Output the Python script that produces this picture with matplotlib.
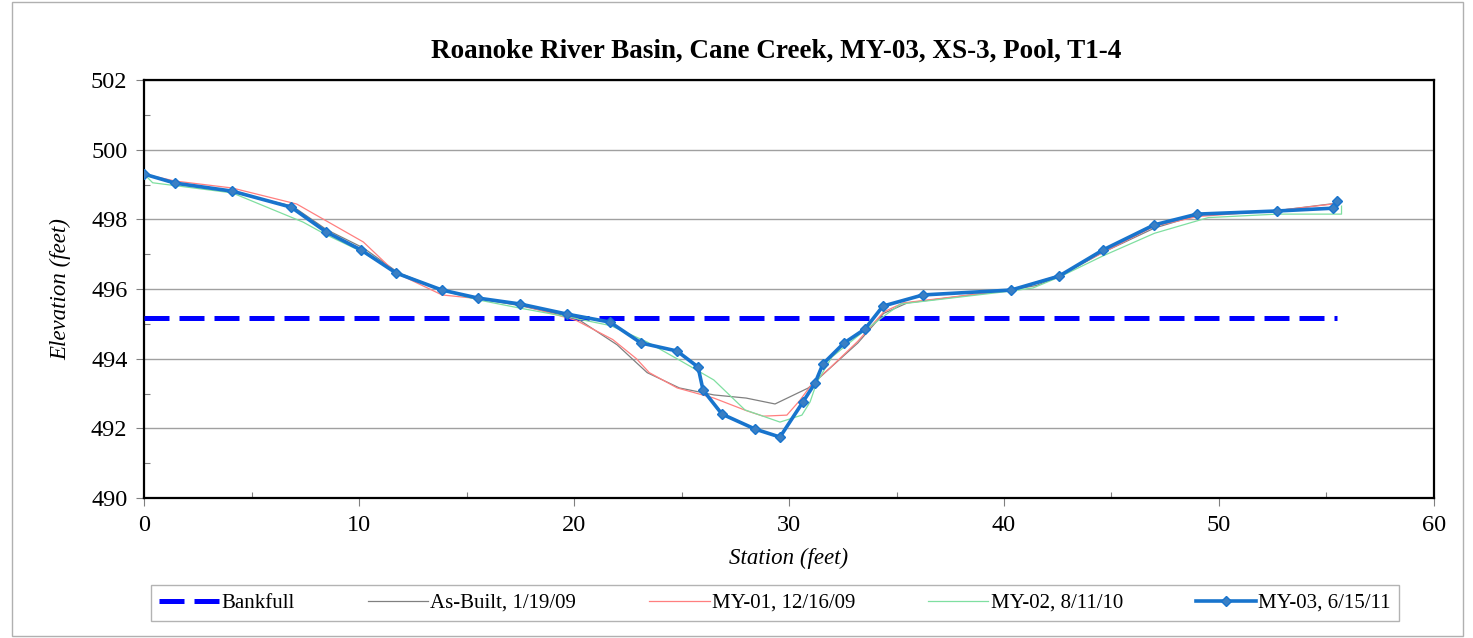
import matplotlib
matplotlib.use("Agg")
import matplotlib.pyplot as plt
from matplotlib.patches import Rectangle
from matplotlib.ticker import MultipleLocator

# Cross-section survey data: station (ft) vs elevation (ft)
bankfull_station = [0.0, 55.5]
bankfull_elev = [495.17, 495.17]

asbuilt_station = [0.0, 1.44, 4.10, 6.9, 8.5, 10.2, 11.8, 13.9, 15.6, 17.5, 19.7, 20.1,
                   22.0, 23.4, 24.9, 26.5, 28.0, 29.35, 30.9, 31.8, 33.2, 34.4, 35.5,
                   40.3, 41.5, 42.6, 44.6, 47.0, 49.0, 52.7, 55.3]
asbuilt_elev = [499.30, 499.02, 498.78, 498.38, 497.70, 497.18, 496.48, 495.95, 495.72,
                495.52, 495.22, 495.17, 494.40, 493.60, 493.16, 492.96, 492.87, 492.70,
                493.16, 493.67, 494.45, 495.30, 495.60, 495.97, 496.10, 496.37, 497.05,
                497.75, 498.12, 498.25, 498.45]

my01_station = [0.0, 1.44, 4.10, 7.1, 10.2, 11.72, 13.86, 15.6, 17.5, 20.1, 21.8, 22.9,
                23.5, 24.8, 26.5, 28.05, 28.8, 29.9, 30.5, 31.1, 31.9, 33.2, 34.4, 35.3,
                40.3, 42.6, 44.6, 47.0, 49.0, 52.7, 55.3]
my01_elev = [499.30, 499.10, 498.90, 498.44, 497.35, 496.46, 495.83, 495.72, 495.55,
             495.10, 494.55, 494.00, 493.60, 493.16, 492.87, 492.50, 492.35, 492.38,
             492.80, 493.30, 493.73, 494.50, 495.34, 495.60, 495.97, 496.40, 497.05,
             497.80, 498.08, 498.25, 498.44]

my02_station = [0.0, 0.4, 4.1, 7.4, 8.4, 10.1, 11.8, 13.9, 15.6, 17.5, 19.7, 21.7, 23.4,
                24.9, 26.5, 27.95, 29.58, 30.6, 30.98, 31.3, 32.0, 33.5, 34.37, 35.2,
                40.3, 41.35, 42.6, 44.6, 47.0, 49.5, 52.7, 55.7, 55.7]
my02_elev = [499.30, 499.05, 498.76, 497.92, 497.58, 497.08, 496.45, 495.95, 495.68,
             495.45, 495.20, 494.95, 494.48, 493.96, 493.39, 492.53, 492.18, 492.38,
             492.76, 493.33, 494.05, 494.80, 495.20, 495.57, 495.94, 496.03, 496.35,
             496.95, 497.60, 498.05, 498.15, 498.15, 498.38]

my03_station = [0.0, 1.44, 4.10, 6.84, 8.47, 10.10, 11.72, 13.86, 15.53, 17.49, 19.67,
                21.67, 23.12, 24.79, 25.77, 26.00, 26.88, 28.42, 29.58, 30.65, 31.21,
                31.58, 32.56, 33.53, 34.37, 36.23, 40.33, 42.56, 44.60, 46.98, 48.98,
                52.70, 55.30, 55.49]
my03_elev = [499.30, 499.04, 498.81, 498.35, 497.64, 497.12, 496.46, 495.97, 495.74,
             495.57, 495.28, 495.05, 494.45, 494.22, 493.76, 493.10, 492.41, 491.98,
             491.75, 492.76, 493.30, 493.85, 494.45, 494.85, 495.51, 495.83, 495.97,
             496.37, 497.12, 497.84, 498.15, 498.24, 498.32, 498.53]

title = "Roanoke River Basin, Cane Creek, MY-03, XS-3, Pool, T1-4"

plt.rcParams["font.family"] = ["Liberation Serif", "DejaVu Serif"]

fig = plt.figure(figsize=(14.73, 6.38), dpi=100)
ax = fig.add_axes([0.0978, 0.2194, 0.9735 - 0.0978, 0.8746 - 0.2194])

# Light outer frame around the whole chart
fig.patches.append(Rectangle((12 / 1473, 2 / 638), (1463 - 12) / 1473, (636 - 2) / 638,
                             transform=fig.transFigure, fill=False,
                             edgecolor="#b0b0b0", linewidth=1.0))

ax.plot(bankfull_station, bankfull_elev, color="#0000FF", linestyle=(0, (5, 2)),
        linewidth=3.6, label="Bankfull", zorder=3)
ax.plot(asbuilt_station, asbuilt_elev, color="#808080", linewidth=0.9,
        label="As-Built, 1/19/09", zorder=4)
ax.plot(my01_station, my01_elev, color="#FF7F7F", linewidth=0.9,
        label="MY-01, 12/16/09", zorder=4)
ax.plot(my02_station, my02_elev, color="#7FDFA0", linewidth=0.9,
        label="MY-02, 8/11/10", zorder=4)
ax.plot(my03_station, my03_elev, color="#1874CD", linewidth=2.6, marker="D",
        markersize=5.5, markerfacecolor="#3A7FC4", markeredgecolor="#1874CD",
        label="MY-03, 6/15/11", zorder=5)

ax.set_xlim(0, 60)
ax.set_ylim(490, 502)
ax.xaxis.set_major_locator(MultipleLocator(10))
ax.xaxis.set_minor_locator(MultipleLocator(5))
ax.yaxis.set_major_locator(MultipleLocator(2))
ax.yaxis.set_minor_locator(MultipleLocator(1))
ax.tick_params(axis="both", which="major", direction="out", length=6, width=0.8,
               color="#808080", labelsize=17.5, pad=6)
ax.tick_params(axis="both", which="minor", direction="in", length=4, width=0.8,
               color="#808080")
ax.grid(axis="y", which="major", color="#a0a0a0", linewidth=1.0)
ax.set_axisbelow(True)
for s in ax.spines.values():
    s.set_color("black")
    s.set_linewidth(1.6)

ax.set_xlabel("Station (feet)", fontsize=16.5, style="italic", labelpad=9)
ax.set_ylabel("Elevation (feet)", fontsize=16.5, style="italic", labelpad=14)
ax.set_title(title, fontsize=19.5, fontweight="bold", pad=16, x=0.49)

leg = fig.legend(loc="center", bbox_to_anchor=(775 / 1473, 1 - 603 / 638), ncol=5,
                 fontsize=15, frameon=True, fancybox=False, edgecolor="#a0a0a0",
                 handlelength=2.9, columnspacing=3.5, handletextpad=0.1,
                 borderpad=0.4)
leg.get_frame().set_linewidth(1.0)

fig.savefig("out.png", dpi=100)
